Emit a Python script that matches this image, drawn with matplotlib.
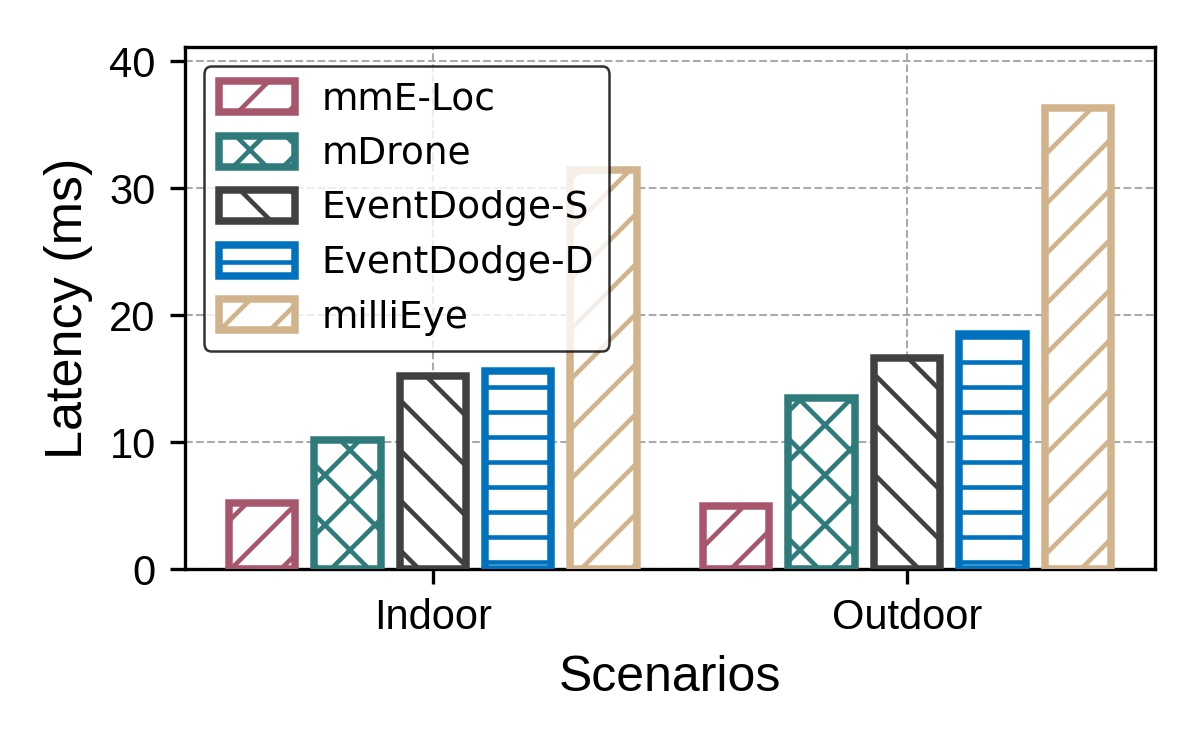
import matplotlib
matplotlib.use("Agg")
import matplotlib.pyplot as plt
import numpy as np

scenarios = ["Indoor", "Outdoor"]
methods = ["mmE-Loc", "mDrone", "EventDodge-S", "EventDodge-D", "milliEye"]
latency = {
    "mmE-Loc": [5.2, 5.0],
    "mDrone": [10.2, 13.5],
    "EventDodge-S": [15.2, 16.6],
    "EventDodge-D": [15.6, 18.5],
    "milliEye": [31.4, 36.3],
}
colors = ["#A8566C", "#2F7A7A", "#404040", "#0072BD", "#D2B48C"]
hatches = ["//", "xx", "\\\\", "--", "//"]

plt.rcParams["hatch.linewidth"] = 1.1
plt.rcParams["font.family"] = ["Liberation Sans", "DejaVu Sans"]

fig = plt.figure(figsize=(4, 2.5), dpi=300)
ax = fig.add_axes([0.154, 0.241, 0.8085, 0.696])

x = np.arange(len(scenarios))
step = 0.18
width = 0.14
for i, m in enumerate(methods):
    off = (i - 2) * step
    ax.bar(x + off, latency[m], width, facecolor="white", edgecolor=colors[i],
           hatch=hatches[i], linewidth=1.8, label=m, zorder=3)

ax.set_ylim(0, 41.1)
ax.set_yticks([0, 10, 20, 30, 40])
ax.set_xticks(x)
ax.set_xticklabels(scenarios)
ax.tick_params(labelsize=10)
ax.set_xlabel("Scenarios", fontsize=12)
ax.set_ylabel("Latency (ms)", fontsize=12.5)
ax.grid(True, linestyle="--", color="#aaaaaa", linewidth=0.5)
ax.set_axisbelow(True)

leg = ax.legend(loc="upper left", prop={"family": "DejaVu Sans", "size": 9},
                handlelength=2.05, handleheight=0.9, labelspacing=0.48,
                handletextpad=0.7, edgecolor="black", framealpha=0.8,
                fancybox=True)
leg.get_frame().set_linewidth(0.6)

fig.savefig("out.png", dpi=300)
